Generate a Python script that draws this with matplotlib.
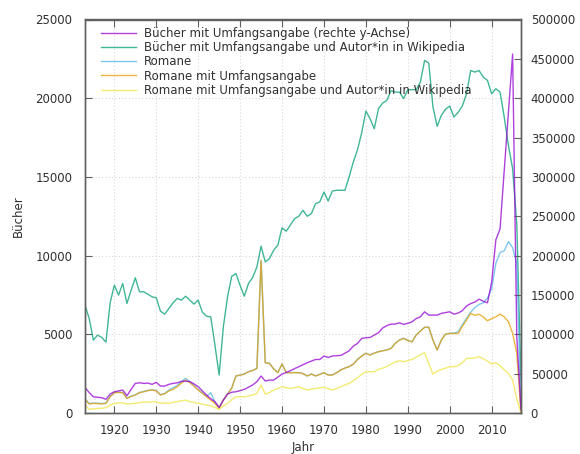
import numpy as np
import matplotlib.pyplot as plt

# Years 1913 - 2017
years = list(range(1913, 2018))

# Bücher mit Umfangsangabe (rechte y-Achse)
buecher = [32200, 26000, 20600, 20000, 19400, 17400, 24100, 27000, 28000, 29200,
           22000, 30000, 37600, 38400, 37600, 38000, 36400, 39000, 34200, 34200,
           36400, 37600, 38400, 40000, 40600, 39800, 37000, 33400, 28000, 22800,
           18000, 14400, 7200, 16400, 24000, 26400, 27000, 28400, 30000, 32800,
           35600, 39800, 47000, 40600, 41800, 41800, 45600, 49400, 51600, 53800,
           56400, 58800, 61400, 63800, 66000, 68000, 68000, 72400, 70600, 72400,
           72800, 73200, 76000, 79000, 85000, 88400, 94800, 95600, 96000, 99000,
           102000, 108000, 111000, 113000, 113000, 114600, 112600, 114000, 115800, 120000,
           122200, 128600, 124400, 124400, 124400, 126600, 127600, 128600, 125600, 127000,
           130000, 136000, 139000, 141000, 144600, 142000, 140000, 166000, 220000, 234000,
           308000, 382000, 456000, 96000, 4000]

# Bücher mit Umfangsangabe und Autor*in in Wikipedia
buecher_wiki = [6850, 6000, 4630, 4950, 4800, 4500, 7000, 8120, 7490, 8230,
                6960, 7800, 8590, 7700, 7700, 7550, 7380, 7320, 6470, 6280,
                6640, 7000, 7280, 7170, 7420, 7170, 6920, 7170, 6400, 6150,
                6110, 4300, 2410, 5480, 7380, 8690, 8860, 8100, 7420, 8230,
                8610, 9280, 10600, 9600, 9810, 10340, 10660, 11760, 11550, 11950,
                12350, 12500, 12880, 12500, 12670, 13300, 13410, 14040, 13470, 14100,
                14150, 14150, 14150, 15000, 15940, 16730, 17800, 19180, 18700, 18060,
                19330, 19690, 19860, 20490, 20390, 20390, 19970, 20540, 20540, 20540,
                21020, 22400, 22230, 19440, 18210, 18910, 19300, 19500, 18800, 19100,
                19500, 20280, 21760, 21660, 21760, 21340, 21130, 20280, 20600, 20390,
                18800, 17000, 15530, 12000, 2000]

# Romane
romane = [900, 600, 630, 620, 600, 630, 1050, 1300, 1320, 1300,
          950, 1070, 1160, 1300, 1370, 1440, 1480, 1420, 1160, 1240,
          1450, 1600, 1750, 2000, 2200, 2000, 1750, 1480, 1270, 1060,
          1290, 700, 320, 830, 1220, 1590, 2360, 2410, 2480, 2630,
          2710, 2840, 9700, 3200, 3160, 2810, 2570, 3120, 2570, 2570,
          2570, 2570, 2510, 2360, 2480, 2360, 2460, 2570, 2420, 2420,
          2560, 2740, 2860, 2950, 3110, 3410, 3630, 3800, 3690, 3810,
          3900, 3960, 4010, 4110, 4430, 4640, 4750, 4610, 4530, 4960,
          5210, 5450, 5450, 4640, 4010, 4640, 5020, 5060, 5080, 5150,
          5600, 6010, 6400, 6700, 6900, 7000, 7300, 7900, 9500, 10200,
          10300, 10900, 10500, 9500, 0]

# Romane mit Umfangsangabe
romane_umfang = [870, 570, 610, 600, 580, 610, 1030, 1290, 1300, 1290,
                 930, 1050, 1140, 1290, 1350, 1420, 1460, 1400, 1140, 1220,
                 1400, 1500, 1670, 1900, 2090, 1930, 1700, 1460, 1250, 1030,
                 820, 600, 300, 820, 1200, 1570, 2350, 2400, 2470, 2620,
                 2700, 2830, 9700, 3190, 3150, 2800, 2560, 3110, 2560, 2560,
                 2560, 2560, 2500, 2350, 2470, 2350, 2450, 2560, 2410, 2410,
                 2550, 2730, 2850, 2940, 3100, 3400, 3620, 3790, 3680, 3800,
                 3890, 3950, 4000, 4100, 4420, 4630, 4740, 4600, 4520, 4950,
                 5200, 5440, 5440, 4630, 4000, 4630, 5010, 5050, 5050, 5050,
                 5500, 5900, 6330, 6200, 6280, 6100, 5860, 6000, 6110, 6280,
                 6110, 5800, 5060, 3790, 0]

# Romane mit Umfangsangabe und Autor*in in Wikipedia
romane_wiki = [510, 230, 260, 290, 300, 340, 500, 610, 640, 650,
               570, 590, 610, 660, 700, 700, 710, 720, 610, 640,
               610, 680, 720, 780, 820, 720, 680, 610, 560, 510,
               450, 350, 230, 450, 610, 850, 1030, 1030, 1030, 1080,
               1140, 1250, 1780, 1200, 1300, 1460, 1550, 1670, 1600, 1560,
               1620, 1670, 1550, 1460, 1520, 1560, 1600, 1630, 1550, 1460,
               1550, 1670, 1780, 1880, 2050, 2250, 2450, 2620, 2620, 2620,
               2770, 2850, 2950, 3100, 3250, 3320, 3260, 3330, 3400, 3550,
               3700, 3830, 3150, 2470, 2650, 2770, 2850, 2940, 2940, 3000,
               3190, 3470, 3470, 3500, 3570, 3450, 3300, 3110, 3200, 3000,
               2750, 2520, 2100, 900, 0]

colors = ['#9400d3', '#009e73', '#56b4e9', '#e69f00', '#f0e442']
text_color = '#303030'

plt.rcParams['font.family'] = 'DejaVu Sans'
plt.rcParams['font.size'] = 8.5

fig = plt.figure(figsize=(5.8, 4.54), dpi=100)
ax = fig.add_axes([85 / 580, 41 / 454, 436 / 580, 393.5 / 454])
ax2 = ax.twinx()

l1, = ax2.plot(years, buecher, color=colors[0], lw=1.0, alpha=0.75,
               label='Bücher mit Umfangsangabe (rechte y-Achse)')
l2, = ax.plot(years, buecher_wiki, color=colors[1], lw=1.0, alpha=0.75,
              label='Bücher mit Umfangsangabe und Autor*in in Wikipedia')
l3, = ax.plot(years, romane, color=colors[2], lw=1.0, alpha=0.75, label='Romane')
l4, = ax.plot(years, romane_umfang, color=colors[3], lw=1.0, alpha=0.75,
              label='Romane mit Umfangsangabe')
l5, = ax.plot(years, romane_wiki, color=colors[4], lw=1.0, alpha=0.75,
              label='Romane mit Umfangsangabe und Autor*in in Wikipedia')

ax.set_xlim(1913, 2017)
ax.set_ylim(0, 25000)
ax2.set_ylim(0, 500000)
ax.set_xticks(range(1920, 2011, 10))
ax.set_yticks(range(0, 25001, 5000))
ax2.set_yticks(range(0, 500001, 50000))

ax.grid(True, color='#d8d8d8', linestyle=(0, (1, 2)), lw=0.8)
ax.set_axisbelow(True)

for a in (ax, ax2):
    for s in a.spines.values():
        s.set_color('#606060')
        s.set_linewidth(1.0)
ax.tick_params(axis='x', direction='in', top=True, length=5, color='#606060',
               labelcolor=text_color, pad=8)
ax.tick_params(axis='y', direction='in', right=False, length=5, color='#606060',
               labelcolor=text_color, pad=9)
ax2.tick_params(axis='y', direction='in', length=5, color='#606060',
                labelcolor=text_color, pad=7)

ax.set_xlabel('Jahr', color=text_color, labelpad=3)
ax.set_ylabel('Bücher', color=text_color, labelpad=8)

ax2.legend(handles=[l1, l2, l3, l4, l5], loc='upper left', frameon=False,
           handlelength=3.0, handletextpad=0.7, labelspacing=0.1,
           borderaxespad=0.0, bbox_to_anchor=(0.025, 0.993), labelcolor=text_color)

fig.savefig('out.png', dpi=100)
